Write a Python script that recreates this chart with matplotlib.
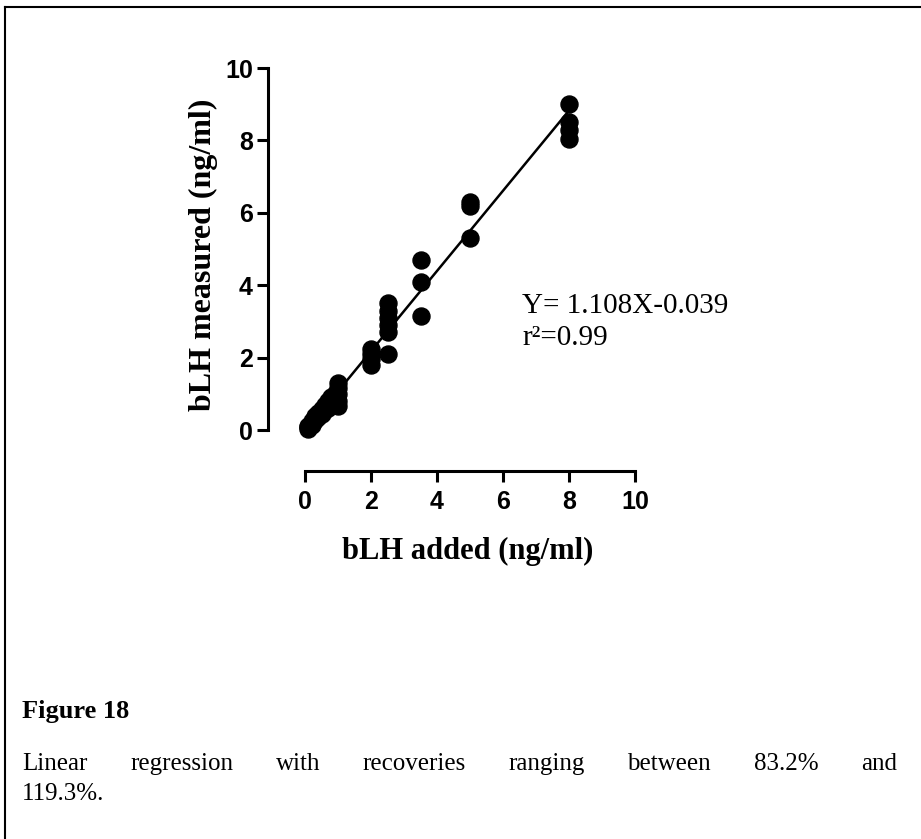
import numpy as np
import matplotlib.pyplot as plt

# datos
bLH_added = [0.1, 0.1, 0.1, 0.2, 0.2, 0.3, 0.3, 0.4, 0.4, 0.5, 0.5, 0.6, 0.6,
             0.7, 0.7, 0.8, 0.8, 0.9, 0.9,
             1.0, 1.0, 1.0, 1.0, 1.0,
             2.0, 2.0, 2.0, 2.0,
             2.5, 2.5, 2.5, 2.5, 2.5, 2.5,
             3.5, 3.5, 3.5,
             5.0, 5.0, 5.0,
             8.0, 8.0, 8.0, 8.0]
bLH_measured = [0.02, 0.08, 0.12, 0.15, 0.25, 0.28, 0.38, 0.35, 0.48, 0.45, 0.58, 0.55, 0.68,
                0.62, 0.8, 0.7, 0.9, 0.75, 1.0,
                0.65, 0.8, 1.0, 1.15, 1.3,
                1.8, 1.95, 2.1, 2.25,
                2.1, 2.7, 2.9, 3.1, 3.3, 3.5,
                3.15, 4.1, 4.7,
                5.3, 6.2, 6.3,
                8.05, 8.3, 8.5, 9.0]
slope = 1.108
intercept = -0.039
ticks = [0, 2, 4, 6, 8, 10]

W, H = 921, 839
fig = plt.figure(figsize=(W / 100, H / 100), dpi=100)

# marco de la figura (solo arriba e izquierda)
fig.add_artist(plt.Line2D([5 / W, 5 / W], [0, 1 - 7 / H], color='black', lw=1.5))
fig.add_artist(plt.Line2D([5 / W, 1], [1 - 7 / H, 1 - 7 / H], color='black', lw=1.5))

ax = fig.add_axes([305 / W, 1 - 430 / H, 330 / W, 362 / H])
ax.scatter(bLH_added, bLH_measured, s=150, color='black', zorder=3, clip_on=False)
xl = np.array([min(bLH_added), max(bLH_added)])
ax.plot(xl, slope * xl + intercept, color='black', lw=1.8, zorder=2)

ax.set_xlim(0, 10)
ax.set_ylim(0, 10)
ax.set_xticks(ticks)
ax.set_yticks(ticks)
ax.spines['top'].set_visible(False)
ax.spines['right'].set_visible(False)
ax.spines['left'].set_position(('outward', 26.5))
ax.spines['bottom'].set_position(('outward', 29.5))
for s in ['left', 'bottom']:
    ax.spines[s].set_linewidth(2.2)
ax.tick_params(width=2.2, length=8, labelsize=18)
ax.tick_params(axis='x', pad=6)
ax.tick_params(axis='y', pad=3)
for lab in ax.get_xticklabels() + ax.get_yticklabels():
    lab.set_fontfamily('Liberation Sans')
    lab.set_fontweight('bold')

ax.set_xlabel("bLH added (ng/ml)", fontsize=22, fontweight='bold', family='Liberation Serif')
ax.set_ylabel("bLH measured (ng/ml)", fontsize=23, fontweight='bold', family='Liberation Serif')
ax.xaxis.set_label_coords(468 / W, 1 - 537 / H, transform=fig.transFigure)
ax.yaxis.set_label_coords(218 / W, 1 - 255 / H, transform=fig.transFigure)

ax.text(522 / W, 1 - 313 / H, "Y= 1.108X-0.039", transform=fig.transFigure,
        fontsize=21, family='Liberation Serif', va='baseline')
ax.text(522 / W, 1 - 345 / H, "r\u00b2=0.99", transform=fig.transFigure,
        fontsize=21, family='Liberation Serif', va='baseline')

# pie de figura
fig.text(22 / W, 1 - 718 / H, "Figure 18", fontsize=19, fontweight='bold',
         family='Liberation Serif', va='baseline')

# linea justificada
words = "Linear regression with recoveries ranging between 83.2% and".split()
x0, x1 = 22, 897
renderer = fig.canvas.get_renderer()
objs = [fig.text(0, 1 - 770 / H, w, fontsize=18, family='Liberation Serif', va='baseline')
        for w in words]
widths = [o.get_window_extent(renderer).width for o in objs]
gap = (x1 - x0 - sum(widths)) / (len(words) - 1)
pos = x0
for o, w in zip(objs, widths):
    o.set_x(pos / W)
    pos += w + gap
fig.text(22 / W, 1 - 800 / H, "119.3%.", fontsize=18, family='Liberation Serif', va='baseline')

fig.savefig('out.png', dpi=100)
